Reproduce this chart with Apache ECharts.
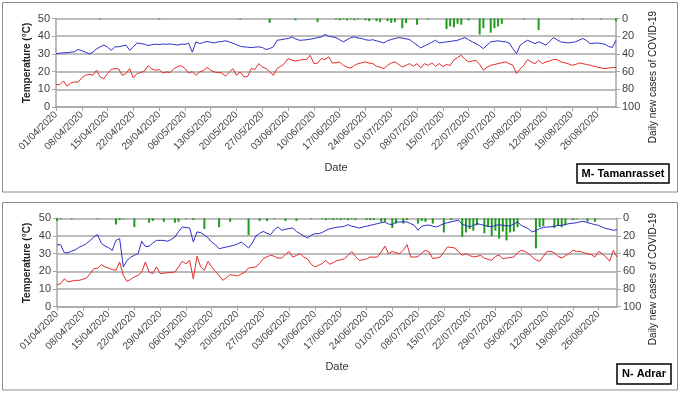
<!DOCTYPE html>
<html><head><meta charset="utf-8">
<script src="https://cdn.jsdelivr.net/npm/echarts@6/dist/echarts.min.js"></script>
<style>html,body{margin:0;padding:0;background:#fff}#c{width:680px;height:393px}</style>
</head><body><div id="c"></div>
<script>
// Daily categories 01/04/2020 .. 31/08/2020
var startDay = 1, startMonth = 4, year = 2020, nDays = 153;
var monthLengths = {4:30,5:31,6:30,7:31,8:31};
var dates = [];
(function(){var d=startDay,m=startMonth;for(var i=0;i<nDays;i++){dates.push((d<10?'0':'')+d+'/'+(m<10?'0':'')+m+'/'+year);d++;if(d>monthLengths[m]){d=1;m++;}}})();

var panelTitles = ['M- Tamanrasset', 'N- Adrar'];
var tempTicks = [0,10,20,30,40,50];
var caseTicks = [0,20,40,60,80,100];

// Panel M - Tamanrasset
var tamTmax = [30.2,30.4,30.6,30.7,31.0,31.2,32.5,31.8,31.0,30.0,
31.0,32.8,34.0,35.0,33.8,32.0,34.0,34.0,34.5,35.0,
32.0,34.0,36.2,35.8,35.5,34.7,35.2,35.5,35.3,35.6,
35.4,35.6,35.3,35.0,35.5,35.4,36.0,31.0,36.8,35.8,
36.5,37.0,36.6,36.2,36.8,37.0,37.4,36.8,36.0,35.2,
34.3,34.0,33.8,33.6,33.8,34.0,33.6,32.5,33.0,34.0,
37.7,38.0,38.4,38.7,39.6,38.5,37.7,37.8,38.0,38.3,
38.7,39.2,39.5,41.0,40.0,39.6,39.2,38.0,36.8,38.0,
39.2,39.6,39.0,38.7,38.0,37.7,38.0,37.4,36.8,36.2,
37.5,38.1,38.7,39.2,38.9,38.5,38.1,36.5,35.0,33.4,
34.5,35.5,36.6,37.7,36.2,36.5,36.8,37.0,37.4,37.7,
38.5,39.2,38.0,36.8,35.8,34.5,33.0,35.0,36.8,37.1,
37.4,37.0,36.8,36.2,33.0,30.2,34.9,36.5,37.7,36.8,
35.8,36.8,36.0,34.9,37.0,39.2,38.0,36.8,36.5,36.2,
36.5,36.8,37.8,38.7,37.5,35.8,36.0,36.2,35.8,35.5,
34.2,33.6,37.7];
var tamTmin = [12.6,12.6,14.7,11.7,13.5,14.2,14.0,16.6,17.9,18.5,
17.9,20.8,17.0,16.0,19.0,21.3,21.7,21.5,17.9,18.9,
21.7,16.4,18.9,19.5,20.2,23.4,21.5,20.8,21.1,19.2,
19.8,19.5,21.7,22.8,23.4,21.7,19.2,20.0,17.9,19.8,
20.5,22.3,20.8,19.8,19.5,19.2,17.4,19.5,21.7,17.9,
19.8,17.0,17.2,21.7,21.2,24.5,22.6,21.7,20.0,17.9,
21.7,23.0,24.5,27.4,26.5,26.0,26.4,26.8,26.8,29.2,
24.5,24.8,27.4,26.8,28.3,24.9,25.0,25.5,23.5,22.5,
22.0,23.5,24.5,25.0,25.5,24.8,24.5,23.0,22.5,21.7,
23.5,24.9,25.5,24.0,22.6,23.5,24.5,23.0,24.5,22.0,
24.5,23.5,25.0,23.0,24.5,22.8,24.0,23.5,26.5,28.0,
29.2,27.0,25.5,26.0,26.4,24.0,20.8,22.5,23.6,24.0,
24.5,25.0,25.5,24.5,23.6,18.9,21.5,23.6,26.8,25.5,
24.5,26.4,24.5,25.5,26.0,26.8,26.8,25.5,25.0,24.5,
23.6,24.0,24.9,24.5,24.0,23.6,23.0,22.5,22.0,21.7,
22.0,22.3,22.3];
var tamCases = [0,0,0,0,0,0,0,0,0,0,
0,0,1,0,0,0,0,0,0,0,
0,0,0,0,0,0,0,0,1,0,
0,0,0,0,0,0,0,0,0,0,
0,0,0,0,0,0,0,0,0,0,
1,0,0,0,0,0,0,0,5,0,
0,0,0,0,0,2,0,0,0,0,
0,4,0,0,0,0,1,2,1,2,
1,2,1,0,2,3,0,3,4,0,
3,5,4,0,11,5,0,0,7,0,
0,1,0,0,0,0,12,9,10,6,
7,0,2,0,0,18,11,0,16,11,
9,6,0,0,0,0,0,1,0,0,
0,13,0,0,0,0,0,0,0,0,
1,0,0,1,0,0,0,0,1,0,
0,0,3];

// Panel N - Adrar
var adrTmax = [35.1,35.0,30.5,30.5,31.5,32.2,33.6,34.5,35.7,37.5,
39.4,40.8,36.0,34.3,33.4,31.9,37.5,38.5,22.5,26.2,
28.0,29.1,30.0,37.0,34.0,34.2,36.0,37.5,37.5,37.5,
37.0,38.0,39.4,42.5,45.1,44.8,44.5,36.6,42.3,41.9,
40.5,39.0,36.5,35.0,32.8,33.3,33.8,34.2,34.7,35.5,
36.5,35.0,33.2,36.0,40.0,41.5,42.6,41.5,40.8,43.5,
45.1,43.2,43.8,44.2,44.5,42.5,41.3,40.0,38.9,40.5,
41.3,41.3,42.0,43.2,44.0,44.5,45.0,45.1,45.5,46.4,
45.5,45.1,44.5,45.0,45.5,46.0,46.5,47.0,47.5,47.9,
46.8,46.4,47.9,47.9,48.0,47.9,47.0,46.0,43.2,45.5,
46.0,46.2,45.5,45.1,46.0,47.0,47.5,48.0,48.5,48.9,
46.5,46.0,45.1,46.0,47.0,46.5,46.0,45.5,45.1,46.0,
46.4,46.0,45.7,45.7,46.8,47.9,46.0,45.1,44.0,42.3,
43.0,44.2,44.8,45.1,45.1,45.5,46.0,46.0,46.5,47.0,
47.2,47.5,48.0,48.3,47.5,47.0,46.4,46.0,45.0,44.2,
43.8,43.2,43.5];
var adrTmin = [12.5,13.0,15.8,14.0,14.5,14.9,14.9,15.5,16.2,18.7,
21.5,21.7,23.8,22.5,21.9,21.0,20.6,25.3,17.7,14.3,
15.5,16.8,17.7,19.6,25.3,19.6,18.7,22.5,18.7,19.0,
19.2,19.4,19.6,22.5,25.7,24.3,26.2,15.8,28.5,22.5,
20.6,25.7,22.5,20.0,17.5,14.9,16.5,18.1,17.8,17.4,
18.5,19.5,21.9,22.2,22.5,24.5,27.2,28.2,29.1,28.5,
27.5,27.5,29.5,31.3,28.1,29.0,30.0,28.0,27.0,24.0,
22.5,23.4,24.5,26.2,24.0,25.0,26.2,26.5,27.2,29.0,
31.3,28.5,26.2,26.5,27.0,28.1,28.0,28.1,31.0,34.3,
30.0,31.3,30.5,30.0,32.0,35.1,28.1,28.1,28.3,30.5,
31.9,31.0,27.2,27.5,28.1,31.0,33.8,33.5,33.2,31.0,
29.1,30.0,29.0,28.1,28.5,29.0,27.5,26.8,26.2,28.5,
29.1,27.2,27.5,27.8,28.1,30.5,31.9,31.3,30.0,28.1,
26.5,25.7,28.5,31.3,31.3,30.5,28.5,27.5,28.8,30.0,
31.9,31.3,31.3,30.5,30.0,29.5,28.1,31.3,30.0,28.1,
25.7,31.9,28.1];
var adrCases = [3,1,0,0,1,0,0,0,0,0,
0,1,0,0,0,0,7,2,1,0,
0,10,0,0,0,5,3,0,0,4,
0,0,5,4,0,1,0,2,0,0,
12,0,0,0,10,0,0,4,0,0,
0,0,19,0,0,3,0,3,0,1,
0,0,3,0,0,3,0,0,0,1,
0,0,1,2,1,2,1,2,1,2,
1,2,0,0,2,2,2,0,4,4,
0,11,6,0,6,2,0,0,6,3,
4,0,6,0,0,16,0,2,0,0,
21,16,12,14,8,0,17,10,20,14,
23,15,25,16,15,10,0,0,0,0,
34,10,9,0,0,11,8,10,8,0,
2,1,0,0,4,0,4,0,0,0,
0,0,0];

var FONT = '"Liberation Sans", Arial, sans-serif';
var GRAY = '#a6a6a6';
var grids = [
  {left:56, right:64, top:18.5, height:88.5},
  {left:57, right:63, top:218.3, height:88.4}
];
function xAx(i){return {type:'category', gridIndex:i, data:dates, boundaryGap:false,
  axisLine:{lineStyle:{color:GRAY,width:1.5}},
  axisTick:{interval:6, length:4, lineStyle:{color:GRAY}},
  axisLabel:{interval:6, rotate:45, fontSize:10, color:'#404040', fontFamily:FONT, margin:6},
  splitLine:{show:false}};}
function yL(i){return {type:'value', gridIndex:i, min:0, max:50, interval:10, position:'left',
  axisLine:{show:true, lineStyle:{color:GRAY,width:1.5}},
  axisTick:{show:true, length:4, lineStyle:{color:GRAY}},
  axisLabel:{fontSize:11, color:'#404040', fontFamily:FONT, margin:6},
  splitLine:{show:true, lineStyle:{color:GRAY, width:1.5}}};}
function yR(i){return {type:'value', gridIndex:i, min:0, max:100, interval:20, position:'right', inverse:true,
  axisLine:{show:true, lineStyle:{color:GRAY,width:1.5}},
  axisTick:{show:true, length:4, lineStyle:{color:GRAY}},
  axisLabel:{fontSize:11, color:'#404040', fontFamily:FONT, margin:6},
  splitLine:{show:false}};}
function barS(i, data){return {type:'bar', xAxisIndex:i, yAxisIndex:2*i+1, data:data, barWidth:2, itemStyle:{color:'#1f9a1f'}, z:2};}
function lineS(i, data, color){return {type:'line', xAxisIndex:i, yAxisIndex:2*i, data:data, symbol:'none', lineStyle:{color:color, width:1}, z:3};}

function vText(txt, x, y, bold, size){return {type:'text', x:x, y:y, rotation:Math.PI/2,
  style:{text:txt, textAlign:'center', textVerticalAlign:'middle', font:(bold?'bold ':'')+size+'px '+FONT, fill:'#222'}};}
function hText(txt, x, y, size){return {type:'text', x:x, y:y, style:{text:txt, textAlign:'center', textVerticalAlign:'middle', font:size+'px '+FONT, fill:'#333'}};}
function box(x,y,w,h,txt){return [{type:'rect', shape:{x:x,y:y,width:w,height:h}, style:{fill:'#fff', stroke:'#000', lineWidth:1.5}},
  {type:'text', x:x+w/2, y:y+h/2, style:{text:txt, textAlign:'center', textVerticalAlign:'middle', font:'bold 11px '+FONT, fill:'#000'}}];}

var chart = echarts.init(document.getElementById('c'), null, {renderer:'canvas'});
chart.setOption({
  animation:false,
  grid:grids,
  xAxis:[xAx(0), xAx(1)],
  yAxis:[yL(0), yR(0), yL(1), yR(1)],
  series:[barS(0,tamCases), lineS(0,tamTmax,'#2b2bc8'), lineS(0,tamTmin,'#e42a2a'),
          barS(1,adrCases), lineS(1,adrTmax,'#2b2bc8'), lineS(1,adrTmin,'#e42a2a')],
  graphic:[
    {type:'rect', shape:{x:2.5,y:2.5,width:675,height:189.5}, style:{fill:null, stroke:'#8c8c8c', lineWidth:1}, z:-1},
    {type:'rect', shape:{x:2.5,y:202.5,width:675,height:187.5}, style:{fill:null, stroke:'#8c8c8c', lineWidth:1}, z:-1},
    vText('Temperature (°C)', 27, 63, true, 10),
    vText('Daily new cases of COVID-19', 653, 77, false, 10),
    vText('Temperature (°C)', 27, 263, true, 10),
    vText('Daily new cases of COVID-19', 653, 279, false, 10),
    hText('Date', 336, 168, 11),
    hText('Date', 337, 367, 11)
  ].concat(box(577,164,92,19,panelTitles[0])).concat(box(617,364,54,20,panelTitles[1]))
});
</script></body></html>
